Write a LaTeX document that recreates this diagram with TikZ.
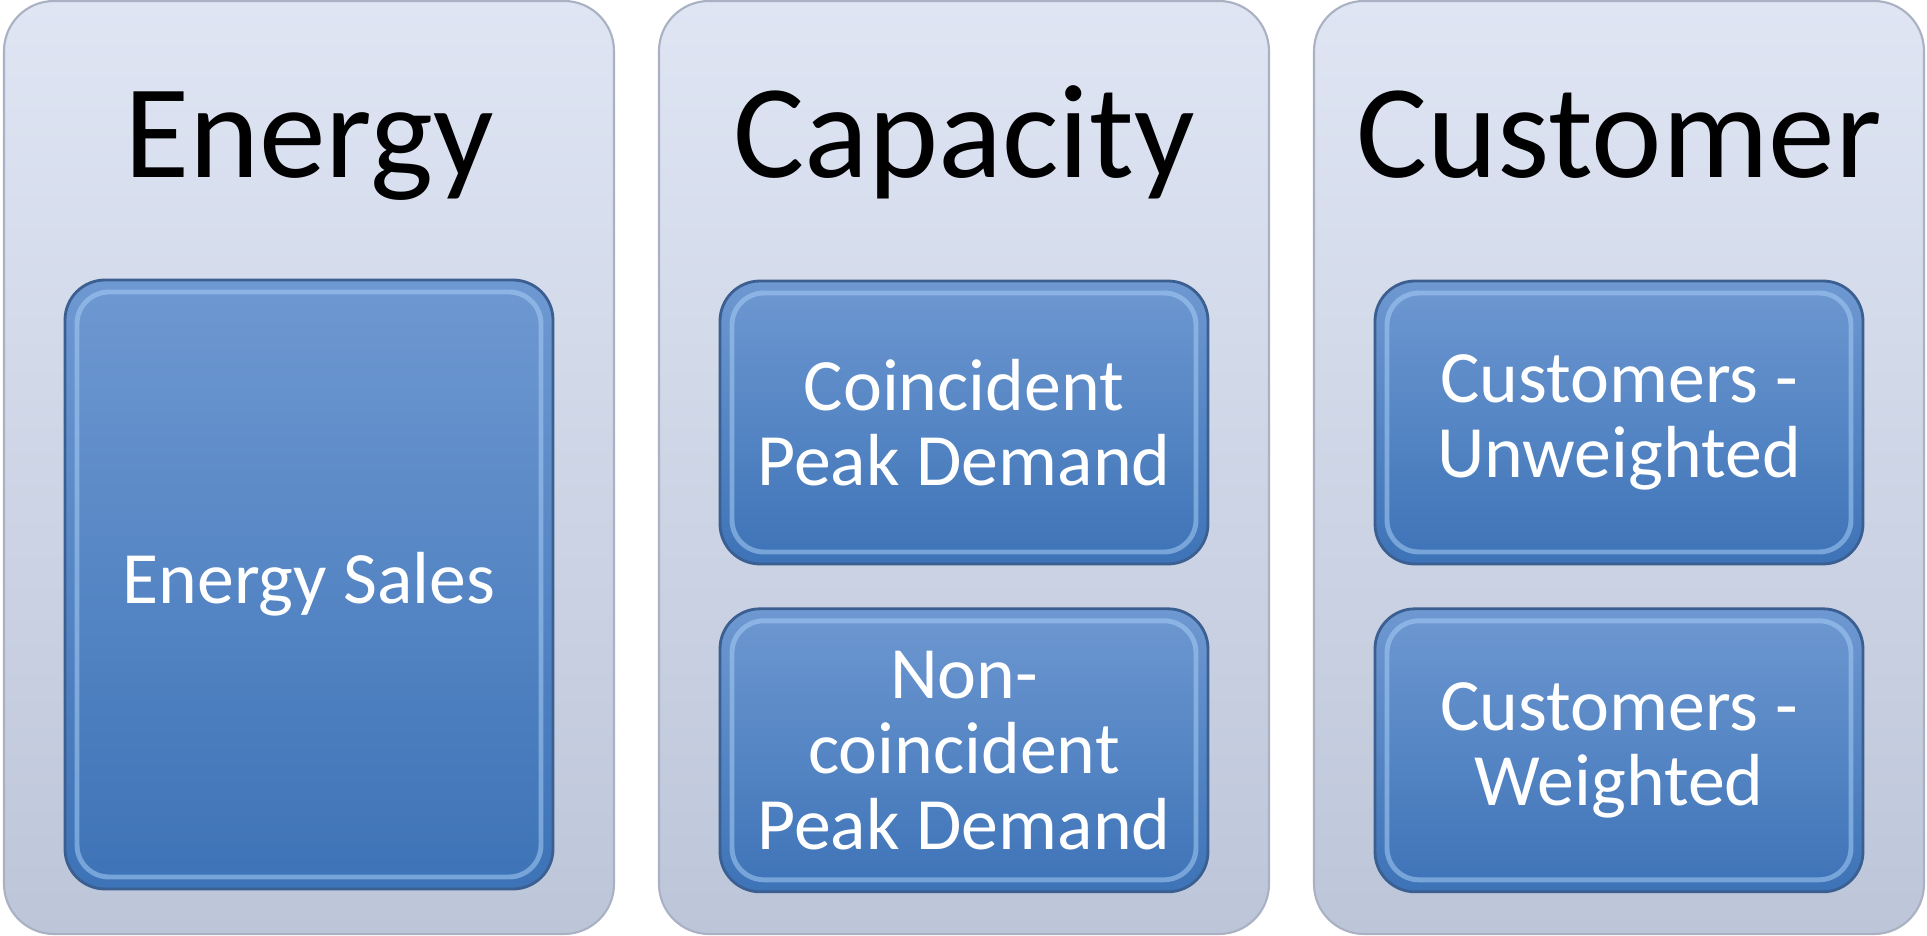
\documentclass[tikz,border=0pt]{standalone}
\usepackage{fontspec}
\setmainfont{Carlito}
\usepackage{xcolor}
\usepackage{tikz}
\usetikzlibrary{
    positioning,
    backgrounds
}
\definecolor{panelTop}{HTML}{DFE5F3}
\definecolor{panelBottom}{HTML}{BDC6D9}
\definecolor{panelEdge}{HTML}{A9B1C3}
\definecolor{boxTop}{HTML}{6E98D1}
\definecolor{boxBottom}{HTML}{3D73B7}
\definecolor{boxEdge}{HTML}{3C5F91}
\definecolor{boxGlow}{HTML}{A6CDF5}
\tikzset{
    panelbox/.style={
        rectangle, draw=panelEdge, line width=0.6pt,
        top color=panelTop, bottom color=panelBottom,
        minimum width=6.1cm, minimum height=9.33cm,
        rounded corners=0.5cm, inner sep=0pt
    },
    paneltitle/.style={
        font=\fontsize{38}{42}\selectfont, text=black, anchor=base
    },
    itembox/.style={
        rectangle, draw=boxEdge, line width=0.8pt,
        top color=boxTop, bottom color=boxBottom,
        minimum width=4.88cm, rounded corners=0.4cm, inner sep=0pt,
        align=center, text=white, font=\fontsize{21}{21.5}\selectfont,
        path picture={
            \draw[boxGlow, line width=1.4pt, rounded corners=0.32cm, opacity=0.55]
                ([shift={(0.12cm,-0.12cm)}]path picture bounding box.north west)
                rectangle ([shift={(-0.12cm,0.12cm)}]path picture bounding box.south east);
        }
    }
}
\begin{document}
\begin{tikzpicture}[
    tallbox/.style={itembox, minimum height=6.09cm},
    shortbox/.style={itembox, minimum height=2.83cm}
  ]
    \useasboundingbox (0,0) rectangle (19.27,-9.36);

    \node[panelbox] (energy_panel) at (3.09,-4.675) {};
    \node[panelbox] (capacity_panel) at (9.64,-4.675) {};
    \node[panelbox] (customer_panel) at (16.19,-4.675) {};

    \node[paneltitle] (energy_title) at (3.09,-1.78) {Energy};
    \node[paneltitle] (capacity_title) at (9.64,-1.78) {Capacity};
    \node[paneltitle] (customer_title) at (16.19,-1.78) {Customer};

    \node[tallbox] (energy_sales) at (3.09,-5.845) {Energy Sales};

    \node[shortbox] (coincident_peak) at (9.64,-4.225) {Coincident\\Peak Demand};
    \node[shortbox, below=0.42cm of coincident_peak] (noncoincident_peak) {Non-\\coincident\\Peak Demand};

    \node[shortbox] (customers_unweighted) at (16.19,-4.225) {Customers -\\Unweighted};
    \node[shortbox, below=0.42cm of customers_unweighted] (customers_weighted) {Customers -\\Weighted};

\end{tikzpicture}
\end{document}
